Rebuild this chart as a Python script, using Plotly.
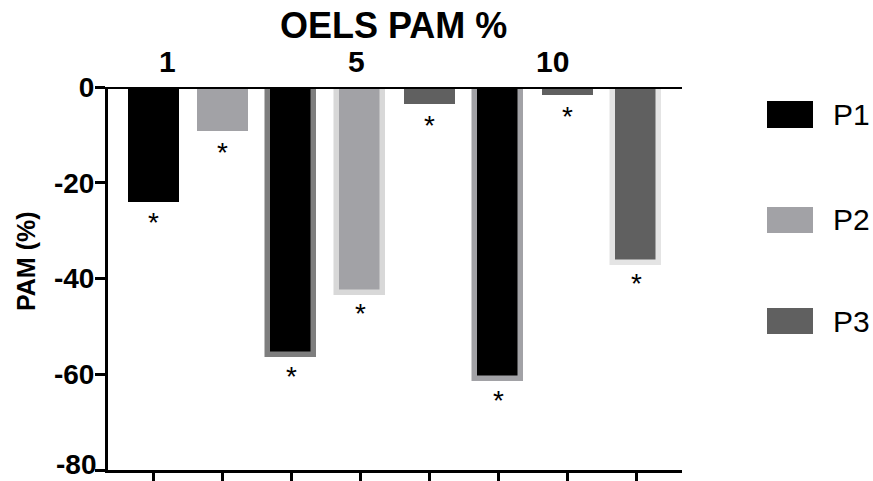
import plotly.graph_objects as go

# ---- data -------------------------------------------------------------
series_names = ["P1", "P2", "P3"]
slots = list(range(8))                 # bar positions along the bottom axis

p1_slots = [0, 2, 5]
p1_values = [-24, -56, -61]

p2_slots = [1, 3]
p2_values = [-9.2, -43]

p3_slots = [4, 6, 7]
p3_values = [-3.6, -1.7, -36.7]

group_labels = ["1", "5", "10"]
group_label_pos = [0.2, 2.94, 5.79]

y_ticks = [0, -20, -40, -60, -80]

# ---- styling ----------------------------------------------------------
FONT = "Liberation Sans, Arial, Helvetica, sans-serif"
P1_COLOR = "#000000"
P2_COLOR = "#a2a2a6"
P3_COLOR = "#606060"

W, H = 873, 481
PL, PR, PT, PB = 108, 682, 87, 470      # plot area in pixels
TICK_SIZE = 28


def px_x(p):
    return (p - PL) / (PR - PL)


def px_y(p):
    return (PB - p) / (PB - PT)


# outlined bars are a little narrower so their outer edge lines up
BAR_W = 0.74
OUT_W = 0.667
EDGE = 5.5

styles = {
    "P1": dict(color=P1_COLOR,
               edge=[P1_COLOR, "#7e7e7e", "#a2a2a6"],
               lw=[0, EDGE, EDGE], width=[BAR_W, OUT_W, OUT_W]),
    "P2": dict(color=P2_COLOR,
               edge=[P2_COLOR, "#d8d8d8"],
               lw=[0, EDGE], width=[BAR_W, OUT_W]),
    "P3": dict(color=P3_COLOR,
               edge=[P3_COLOR, P3_COLOR, "#e4e4e4"],
               lw=[0, 0, EDGE], width=[BAR_W, BAR_W, OUT_W]),
}

data = {
    "P1": (p1_slots, p1_values),
    "P2": (p2_slots, p2_values),
    "P3": (p3_slots, p3_values),
}

fig = go.Figure()
for name in series_names:
    xs, ys = data[name]
    st = styles[name]
    fig.add_trace(go.Bar(
        x=xs, y=ys, name=name, width=st["width"],
        marker=dict(color=st["color"],
                    line=dict(color=st["edge"], width=st["lw"])),
        showlegend=False, hoverinfo="skip",
    ))

annotations = []

# significance stars under every bar
for name in series_names:
    xs, ys = data[name]
    for x, y in zip(xs, ys):
        annotations.append(dict(
            x=x, y=y, xref="x", yref="y", text="*", showarrow=False,
            xanchor="center", yanchor="middle", yshift=-21,
            font=dict(family=FONT, size=28, color="#000000"),
        ))

# group labels above the zero line
for lab, pos in zip(group_labels, group_label_pos):
    annotations.append(dict(
        x=pos, y=px_y(61), xref="x", yref="paper", text=f"<b>{lab}</b>",
        showarrow=False, xanchor="center", yanchor="middle",
        font=dict(family=FONT, size=30, color="#000000"),
    ))

# chart title
annotations.append(dict(
    x=px_x(393), y=px_y(25), xref="paper", yref="paper",
    text="<b>OELS PAM %</b>", showarrow=False,
    xanchor="center", yanchor="middle",
    font=dict(family=FONT, size=36, color="#000000"),
))

# y-axis title
annotations.append(dict(
    x=px_x(26), y=px_y(261), xref="paper", yref="paper",
    text="<b>PAM (%)</b>", showarrow=False, textangle=-90,
    xanchor="center", yanchor="middle",
    font=dict(family=FONT, size=25, color="#000000"),
))

# the lowest tick label sits on the figure's bottom edge, so it is
# anchored by its bottom to stay fully inside the page
annotations.append(dict(
    x=px_x(97), y=0, xref="paper", yref="paper",
    text=f"<b>{y_ticks[-1]}</b>", showarrow=False,
    xanchor="right", yanchor="bottom", yshift=-(H - PB), borderpad=0,
    font=dict(family=FONT, size=TICK_SIZE, color="#000000"),
))

# legend
shapes = []
legend_rows = [(101, 128), (207, 233), (308, 334)]
legend_colors = [P1_COLOR, P2_COLOR, P3_COLOR]
for name, (y0, y1), col in zip(series_names, legend_rows, legend_colors):
    shapes.append(dict(
        type="rect", xref="paper", yref="paper",
        x0=px_x(767), x1=px_x(813), y0=px_y(y1), y1=px_y(y0),
        fillcolor=col, line=dict(width=0), layer="above",
    ))
    annotations.append(dict(
        x=px_x(831), y=px_y((y0 + y1) / 2), xref="paper", yref="paper",
        text=name, showarrow=False, xanchor="left", yanchor="middle",
        font=dict(family=FONT, size=30, color="#000000"),
    ))

# heavy zero line drawn over the bars
shapes.append(dict(
    type="line", xref="paper", yref="y", x0=0, x1=1, y0=0, y1=0,
    line=dict(color="#000000", width=4), layer="above",
))

y_ticktext = [f"<b>{v}</b>" for v in y_ticks[:-1]] + [""]

fig.update_layout(
    width=W, height=H,
    margin=dict(l=PL, r=W - PR, t=PT, b=H - PB, pad=0, autoexpand=False),
    paper_bgcolor="#ffffff", plot_bgcolor="#ffffff",
    barmode="overlay", bargap=0,
    annotations=annotations, shapes=shapes,
    font=dict(family=FONT, color="#000000"),
    xaxis=dict(
        range=[-0.657, 7.66], tickvals=slots, showticklabels=False,
        ticks="outside", ticklen=11, tickwidth=3, tickcolor="#000000",
        showline=True, linewidth=3, linecolor="#000000",
        showgrid=False, zeroline=False, fixedrange=True, automargin=False,
    ),
    yaxis=dict(
        range=[-80, 0], tickvals=y_ticks, ticktext=y_ticktext,
        ticks="outside", ticklen=10, tickwidth=3, tickcolor="#000000",
        tickfont=dict(family=FONT, size=TICK_SIZE, color="#000000"),
        ticklabelstandoff=-5, ticklabeloverflow="allow",
        showline=True, linewidth=3, linecolor="#000000",
        showgrid=False, zeroline=False, fixedrange=True, automargin=False,
    ),
)

fig.write_html("out.html")
